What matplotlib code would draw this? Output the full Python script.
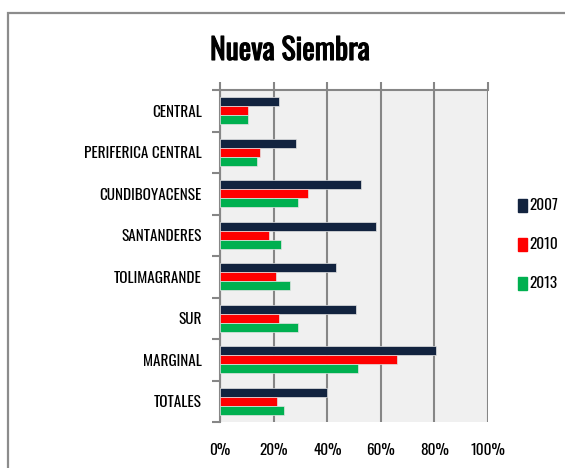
import matplotlib.pyplot as plt
import matplotlib.patheffects as pe
import numpy as np
from matplotlib.patches import Rectangle
from matplotlib.textpath import TextPath
from matplotlib.font_manager import FontProperties

# Share of new plantings per region, by survey year
regions = ["CENTRAL", "PERIFERICA CENTRAL", "CUNDIBOYACENSE", "SANTANDERES",
           "TOLIMAGRANDE", "SUR", "MARGINAL", "TOTALES"]
years = ["2007", "2010", "2013"]
share_2007 = [22.2, 28.3, 52.6, 58.1, 43.1, 50.6, 80.5, 40.0]
share_2010 = [10.6, 14.8, 33.0, 18.3, 20.8, 22.2, 66.0, 21.4]
share_2013 = [10.6, 13.7, 29.0, 22.7, 26.2, 29.0, 51.5, 23.9]
x_ticks = [0, 20, 40, 60, 80, 100]

colors = ["#12233F", "#FF0000", "#00B050"]
grid_gray = "#868686"
FONT = "Oswald"
plt.rcParams["font.family"] = [FONT, "DejaVu Sans"]

W, H = 565, 468
DPI = 100


def size_for_cap(px):
    """Font size (pt) giving a capital-letter height of `px` pixels."""
    cap = TextPath((0, 0), "E", prop=FontProperties(family=FONT), size=100).get_extents().height
    return px / (cap / 100) * 72 / DPI


lab_fs = size_for_cap(12.3)
title_fs = size_for_cap(24)

fig = plt.figure(figsize=(W / DPI, H / DPI), dpi=DPI)
ax = fig.add_axes([220 / W, 1 - 422 / H, 268 / W, 332 / H])
ax.set_facecolor("#F0F0F0")

# outer chart frame
fig.patches.append(Rectangle((8 / W, -0.1), 1.2, 1 - 13 / H + 0.1,
                             transform=fig.transFigure, fill=False,
                             edgecolor="#8C8C8C", linewidth=1.6))

y = np.arange(len(regions))
h = 0.22
series = [share_2007, share_2010, share_2013]
for i, (vals, c, lab) in enumerate(zip(series, colors, years)):
    ax.barh(y + (i - 1) * h, vals, height=h, color=c, label=lab,
            edgecolor="#E4E4E4", linewidth=0.5, zorder=3)

ax.set_xlim(0, 100)
ax.set_ylim(len(regions) - 0.5, -0.5)

ax.set_xticks(x_ticks)
ax.set_xticklabels([f"{t}%" for t in x_ticks], fontsize=lab_fs)
ax.xaxis.grid(True, color=grid_gray, linewidth=1.5, zorder=1)
ax.tick_params(axis="x", top=True, bottom=False, labelbottom=True,
               labeltop=False, direction="out", length=6, width=1.5,
               color=grid_gray, pad=9)

ax.set_yticks(y)
ax.set_yticklabels(regions, fontsize=lab_fs)
ax.set_yticks(np.arange(len(regions) + 1) - 0.5, minor=True)
ax.tick_params(axis="y", which="major", length=0, pad=13)
ax.tick_params(axis="y", which="minor", length=6, width=1.5,
               color=grid_gray, direction="out")

for side in ["bottom", "right"]:
    ax.spines[side].set_visible(False)
for side in ["top", "left"]:
    ax.spines[side].set_color(grid_gray)
    ax.spines[side].set_linewidth(1.5)

# the variable font has no bold instance, so thicken the title with a stroke
fig.text(290 / W, 1 - 60 / H, "Nueva Siembra", fontsize=title_fs,
         ha="center", va="baseline",
         path_effects=[pe.withStroke(linewidth=0.8, foreground="black")])

# legend on the right, one swatch + year per row
for k, (yr, c) in enumerate(zip(years, colors)):
    yc = 205 + k * 39
    fig.patches.append(Rectangle((518 / W, 1 - (yc + 6.5) / H), 9 / W, 13 / H,
                                 transform=fig.transFigure, color=c))
    fig.text(529 / W, 1 - yc / H, yr, fontsize=lab_fs, ha="left", va="center")

fig.savefig("out.png", dpi=DPI)
